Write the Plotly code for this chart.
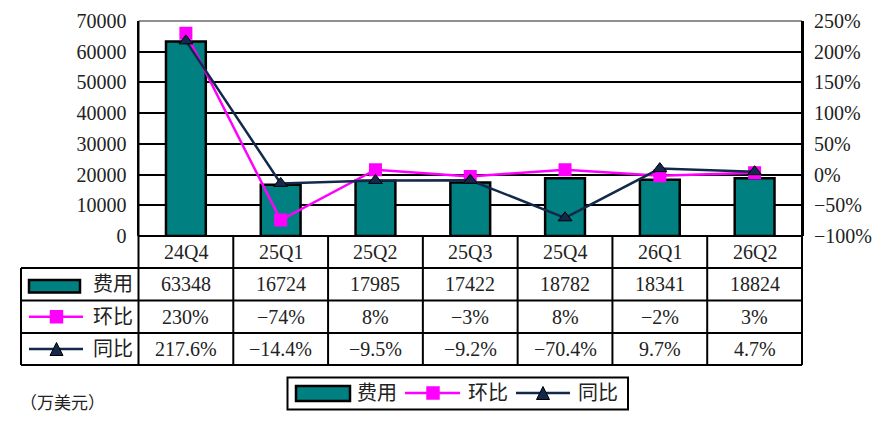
import plotly.graph_objects as go

quarters = ["24Q4", "25Q1", "25Q2", "25Q3", "25Q4", "26Q1", "26Q2"]
cost = [63348, 16724, 17985, 17422, 18782, 18341, 18824]
qoq = [230, -74, 8, -3, 8, -2, 3]
yoy = [217.6, -14.4, -9.5, -9.2, -70.4, 9.7, 4.7]

cost_labels = [str(v) for v in cost]
qoq_labels = [f"{v}%".replace("-", "−") for v in qoq]
yoy_labels = [f"{v:.1f}%".replace("-", "−") for v in yoy]

# the page body has an 8px margin, so the figure is a bit smaller
OFF = 8
W, H = 880 - OFF, 438 - OFF
X0, X1 = 138.5, 802      # plot area, screen pixels
Y0, Y1 = 21, 236
TX = 21                  # left edge of table
ROWS = [236, 268, 300.5, 333, 365]
COLW = (X1 - X0) / len(quarters)

FONT = "Liberation Serif, Noto Sans CJK SC, serif"
TEAL = "#008080"
MAG = "#FF00FF"
NAVY = "#13294B"
TXT = "#222222"


def px(x):
    return (x - OFF) / W


def py(y):
    return 1 - (y - OFF) / H


fig = go.Figure()
fig.add_trace(go.Bar(
    x=quarters, y=cost, name="费用",
    marker=dict(color=TEAL, line=dict(color="black", width=2.5)),
    width=0.42,
))
fig.add_trace(go.Scatter(
    x=quarters, y=qoq, name="环比", yaxis="y2", mode="lines+markers",
    line=dict(color=MAG, width=2.5),
    marker=dict(symbol="square", size=13, color=MAG),
))
fig.add_trace(go.Scatter(
    x=quarters, y=yoy, name="同比", yaxis="y2", mode="lines+markers",
    line=dict(color=NAVY, width=2.5),
    marker=dict(symbol="triangle-up", size=12, color=NAVY,
                line=dict(color="black", width=1)),
))

shapes = []
ann = []


def hline(y, xa, xb, color="black", w=2):
    shapes.append(dict(type="line", xref="paper", yref="paper",
                       x0=px(xa), x1=px(xb), y0=py(y), y1=py(y),
                       line=dict(color=color, width=w)))


def vline(x, ya, yb, w=2):
    shapes.append(dict(type="line", xref="paper", yref="paper",
                       x0=px(x), x1=px(x), y0=py(ya), y1=py(yb),
                       line=dict(color="black", width=w)))


def text(x, y, s, size=20, xref="paper"):
    ann.append(dict(x=x if xref != "paper" else px(x), y=py(y), xref=xref,
                    yref="paper", text=s, showarrow=False,
                    xanchor="center", yanchor="middle",
                    font=dict(family=FONT, size=size, color=TXT)))


def rect(xa, xb, ya, yb, fill, lw=2.5):
    shapes.append(dict(type="rect", xref="paper", yref="paper",
                       x0=px(xa), x1=px(xb), y0=py(ya), y1=py(yb),
                       fillcolor=fill, line=dict(color="black", width=lw)))


def square(cx, cy, s=13.5):
    shapes.append(dict(type="rect", xref="paper", yref="paper",
                       x0=px(cx - s / 2), x1=px(cx + s / 2),
                       y0=py(cy - s / 2), y1=py(cy + s / 2),
                       fillcolor=MAG, line=dict(width=0)))


def triangle(cx, cy, s=13):
    p = (f"M {px(cx)},{py(cy - s / 2)} L {px(cx - s / 2)},{py(cy + s / 2)} "
         f"L {px(cx + s / 2)},{py(cy + s / 2)} Z")
    shapes.append(dict(type="path", xref="paper", yref="paper", path=p,
                       fillcolor=NAVY, line=dict(color="black", width=1)))


# top border of plot area
hline(Y0, X0, X1, color="#909090", w=2)

# table grid
hline(ROWS[0], X0, X1)
for y in ROWS[1:]:
    hline(y, TX, X1)
vline(TX, ROWS[1], ROWS[-1])
vline(X0, Y0, ROWS[-1])
vline(X1, Y0, ROWS[-1])
for k in range(1, len(quarters)):
    vline(X0 + k * COLW, ROWS[0], ROWS[-1])

# table contents
centers = [(ROWS[i] + ROWS[i + 1]) / 2 for i in range(4)]
for i, q in enumerate(quarters):
    text(q, centers[0], q, xref="x")
    text(q, centers[1], cost_labels[i], xref="x")
    text(q, centers[2], qoq_labels[i], xref="x")
    text(q, centers[3], yoy_labels[i], xref="x")

# row headers with symbols
rect(29, 80, 280, 292.5, TEAL)
text(113, centers[1], "费用")
hline(centers[2], 29, 83, color=MAG, w=2.5)
square(56.5, centers[2])
text(113, centers[2], "环比")
hline(centers[3], 29, 83, color=NAVY, w=2.5)
triangle(56.5, centers[3])
text(113, centers[3], "同比")

# legend box
rect(287.5, 628, 377.5, 409.5, "rgba(0,0,0,0)", lw=2)
rect(296, 350, 386, 401, TEAL)
text(377, 393, "费用")
hline(393, 405, 460, color=MAG, w=2.5)
square(433, 393)
text(488, 393, "环比")
hline(393, 516, 570, color=NAVY, w=2.5)
triangle(543, 393)
text(598, 393, "同比")

# unit note
text(62, 403, "（万美元）", size=17)

axis_font = dict(family=FONT, size=20, color=TXT)
fig.update_layout(
    width=W, height=H,
    margin=dict(l=0, r=0, t=0, b=0),
    paper_bgcolor="white", plot_bgcolor="white",
    showlegend=False,
    bargap=0.58,
    xaxis=dict(domain=[px(X0), px(X1)], showticklabels=False,
               showgrid=False, zeroline=False, showline=False, ticks="",
               automargin=False),
    yaxis=dict(domain=[py(Y1), py(Y0)], range=[0, 70000], dtick=10000,
               tickformat="d", automargin=False,
               showgrid=True, gridcolor="black", gridwidth=2,
               zeroline=False, showline=True, linecolor="black", linewidth=2,
               ticks="inside", ticklen=9, tickcolor="black", tickwidth=2,
               tickfont=axis_font, ticklabelstandoff=6),
    yaxis2=dict(overlaying="y", side="right", range=[-100, 250], dtick=50,
                ticksuffix="%", showgrid=False, zeroline=False,
                automargin=False,
                showline=True, linecolor="black", linewidth=2,
                ticks="inside", ticklen=9, tickcolor="black", tickwidth=2,
                tickfont=axis_font, ticklabelstandoff=6),
    shapes=shapes,
    annotations=ann,
)

fig.write_html("out.html")
